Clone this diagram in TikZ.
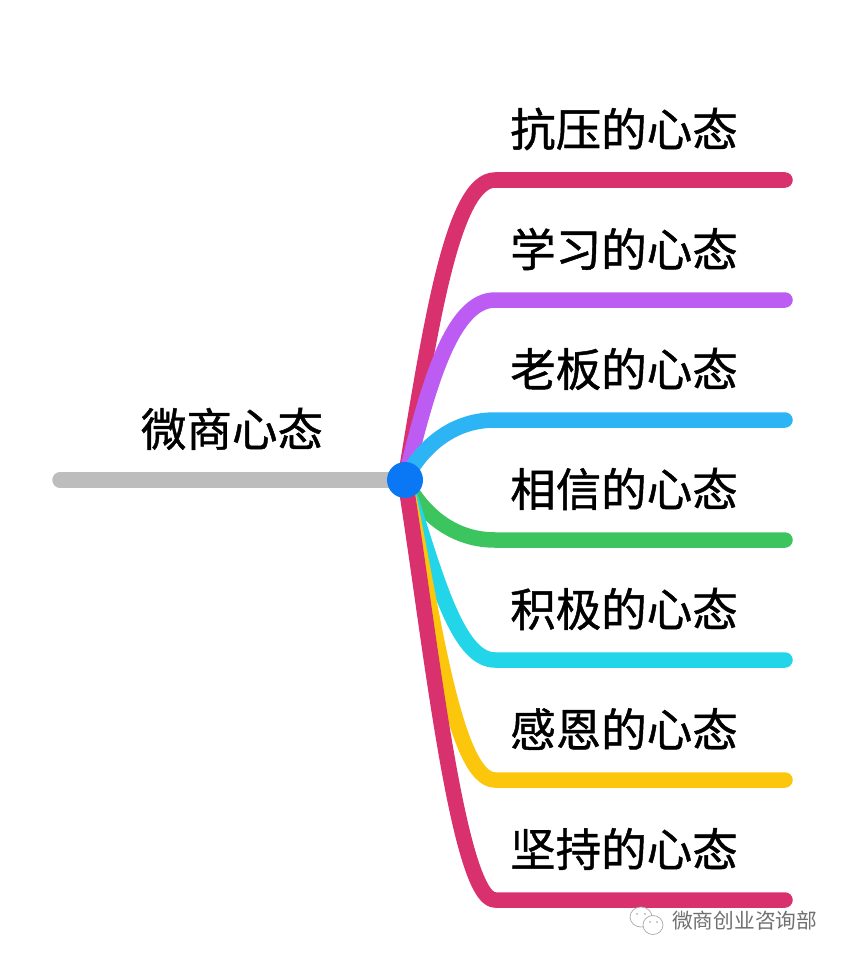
\documentclass[tikz,border=0pt]{standalone}
\usepackage{fontspec}
\setmainfont{Noto Sans CJK SC}[FakeBold=1]
\newfontfamily\wmfont{Noto Sans CJK SC}
\definecolor{crim}{HTML}{D9306E}
\definecolor{purp}{HTML}{BD5CF2}
\definecolor{sky}{HTML}{2DB4F5}
\definecolor{grn}{HTML}{3CC45F}
\definecolor{cyn}{HTML}{22D5E8}
\definecolor{ylw}{HTML}{FCC60C}
\definecolor{gry}{HTML}{BDBDBD}
\definecolor{hubc}{HTML}{0A78F5}
\definecolor{wm}{HTML}{707070}
\tikzset{
  x=1pt,y=-1pt,
  branch/.style={line width=15.5pt,line cap=round,line join=round},
  lbl/.style={font=\fontsize{45.5}{46}\selectfont,text=black,inner sep=0pt,anchor=center},
  hubnode/.style={circle,fill=hubc,minimum size=36pt,inner sep=0pt},
  wmtext/.style={font=\wmfont\fontsize{20.7}{21}\selectfont,text=wm,inner sep=0pt,anchor=west},
  bubble/.style={draw=wm!60,line width=.7pt,fill=white},
  eye/.style={fill=wm!70,draw=none}
}
\begin{document}
\begin{tikzpicture}
\useasboundingbox (0,0) rectangle (845,960);
\coordinate (c) at (405,480);
\coordinate (s) at (60,480);
\coordinate (e1) at (785,180);
\coordinate (e2) at (785,300);
\coordinate (e3) at (785,420);
\coordinate (e4) at (785,540);
\coordinate (e5) at (785,660);
\coordinate (e6) at (785,780);
\coordinate (e7) at (785,900);
\draw[branch,gry] (s) -- (c);
\draw[branch,crim] (c) .. controls (430,330) and (452,180) .. (495,180) -- (e1);
\draw[branch,purp] (c) .. controls (428,385) and (452,300) .. (495,300) -- (e2);
\draw[branch,sky] (c) .. controls (420,450) and (450,420) .. (495,420) -- (e3);
\draw[branch,grn] (c) .. controls (420,510) and (450,540) .. (495,540) -- (e4);
\draw[branch,cyn] (c) .. controls (435,575) and (457,660) .. (495,660) -- (e5);
\draw[branch,ylw] (c) .. controls (430,590) and (452,780) .. (495,780) -- (e6);
\draw[branch,crim] (c) .. controls (428,620) and (457,900) .. (495,900) -- (e7);
\node[hubnode] (hub) at (c) {};
\node[lbl] (root) at (232,429) {微商心态};
\node[lbl] (t1) at (624,129) {抗压的心态};
\node[lbl] (t2) at (624,249) {学习的心态};
\node[lbl] (t3) at (624,369) {老板的心态};
\node[lbl] (t4) at (624,489) {相信的心态};
\node[lbl] (t5) at (624,609) {积极的心态};
\node[lbl] (t6) at (624,729) {感恩的心态};
\node[lbl] (t7) at (624,849) {坚持的心态};
\node[wmtext] (wmark) at (672,921) {微商创业咨询部};
\draw[bubble] (641,917) ellipse (11 and 10);
\draw[bubble] (653,925) ellipse (10 and 9.5);
\fill[eye] (637,914) circle (.9) (645,914) circle (.9) (650,922) circle (.9) (657,922) circle (.9);
\end{tikzpicture}
\end{document}
